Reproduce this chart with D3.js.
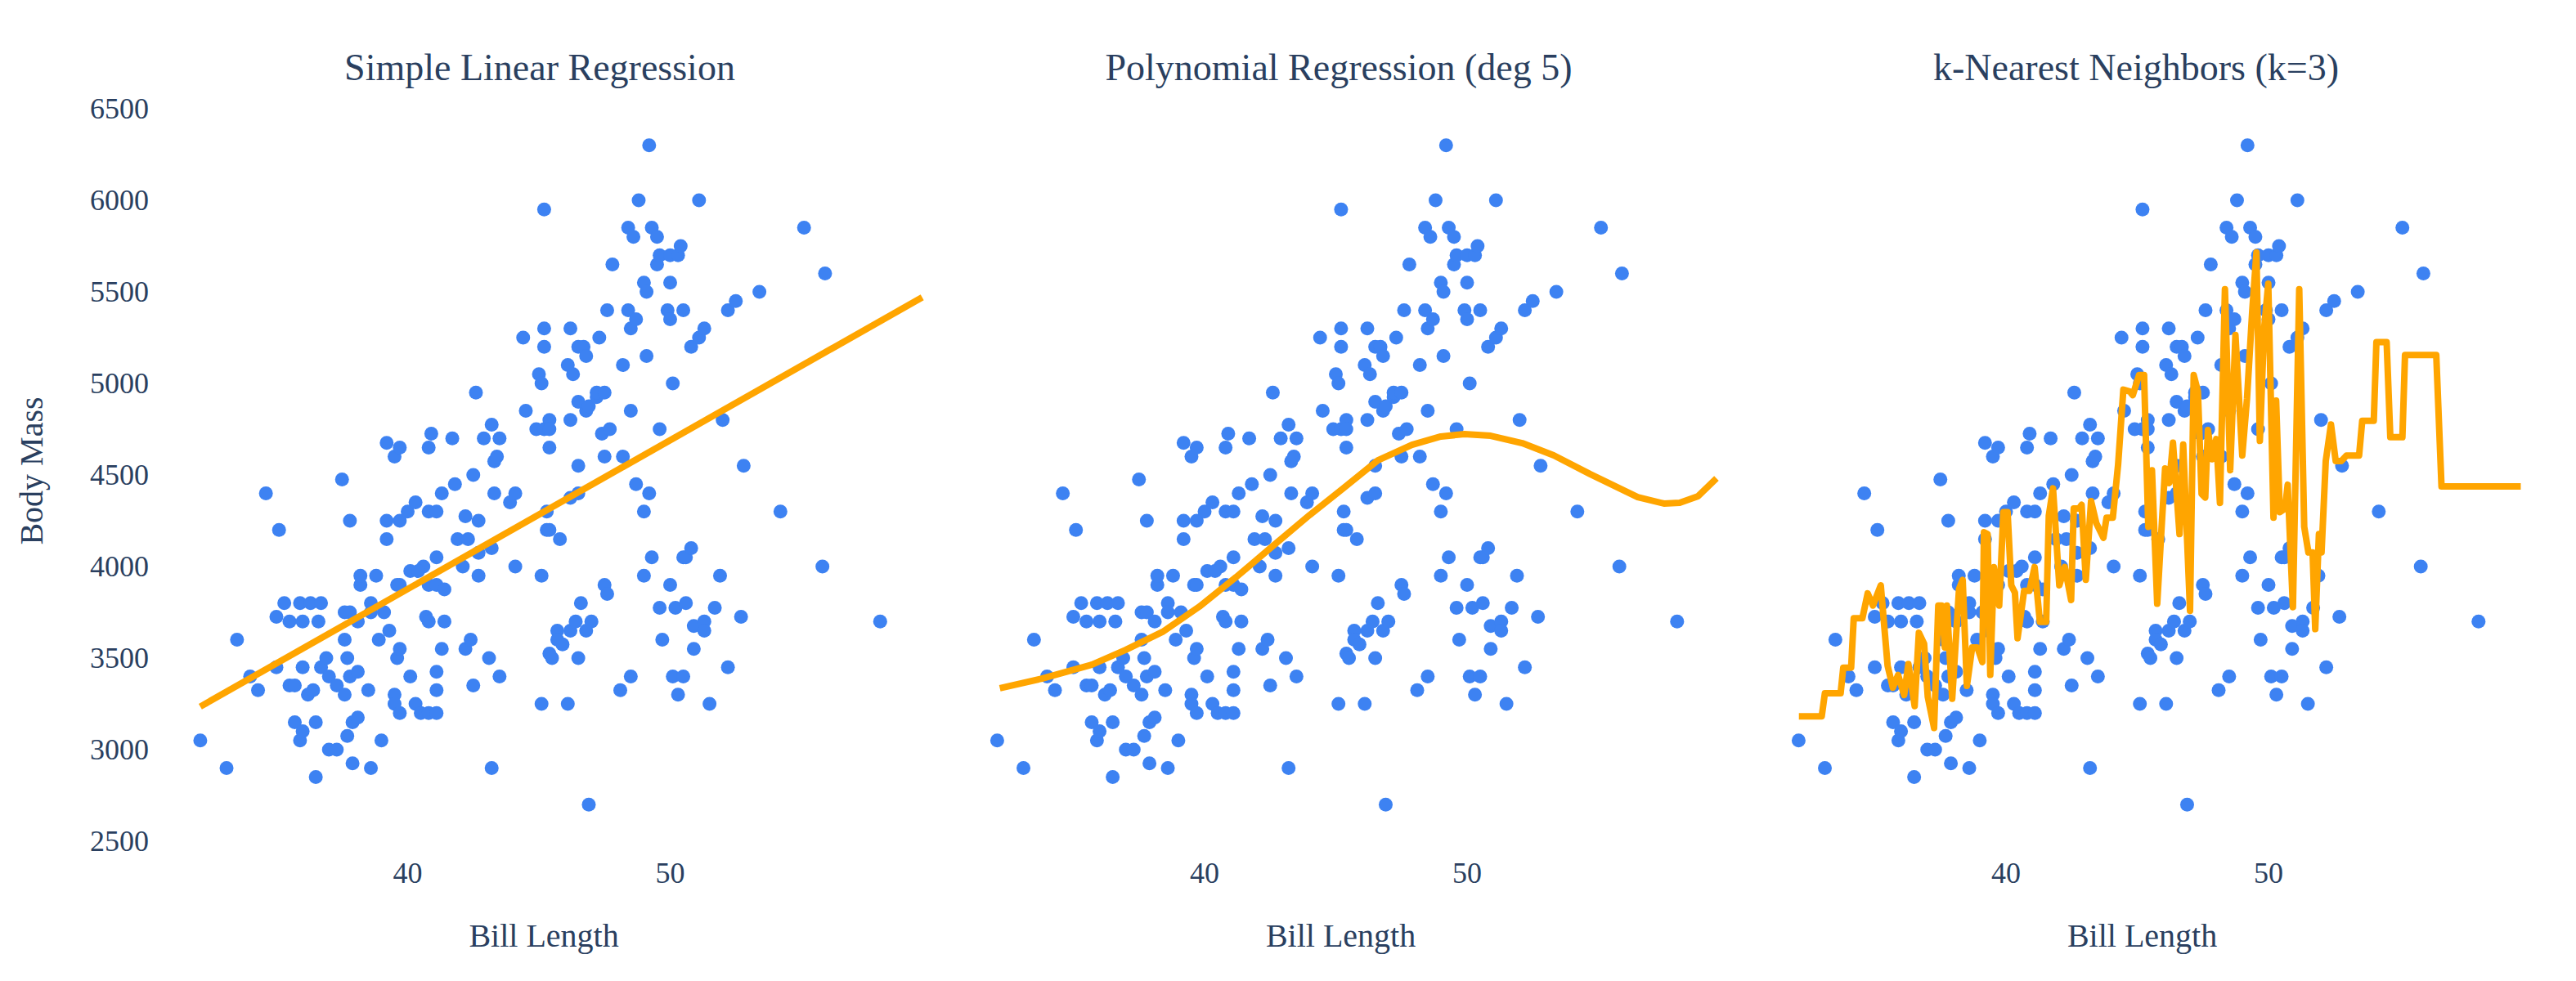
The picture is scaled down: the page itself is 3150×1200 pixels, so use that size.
<!DOCTYPE html>
<html>
<head>
<meta charset="utf-8">
<script src="https://cdn.jsdelivr.net/npm/d3@7"></script>
<style>
  body { margin: 0; background: #fff; }
  text { font-family: "Liberation Serif", "DejaVu Serif", serif; fill: #2a3f5f; }
</style>
</head>
<body>
<div id="chart"></div>
<script>
// scatter: bill length / body mass
const billLength = [32.1,33.1,33.5,34.0,34.3,34.6,35.0,35.1,35.0,35.3,35.5,35.5,35.7,35.7,35.9,36.0,36.0,35.9,36.0,36.3,36.2,36.4,36.5,36.5,36.6,36.7,36.7,36.9,37.0,37.0,37.3,37.3,37.5,37.6,37.6,37.7,37.7,37.6,37.8,37.8,37.8,37.9,37.9,38.1,38.1,38.1,38.2,38.2,38.5,38.6,38.6,38.6,38.8,38.9,39.0,39.1,39.2,39.2,39.2,39.3,39.5,39.5,39.5,39.6,39.6,39.7,39.7,39.7,39.7,39.7,40.1,40.1,40.0,40.3,40.3,40.5,40.6,40.4,40.7,40.8,40.8,40.9,40.8,40.8,40.8,41.1,41.1,41.1,41.1,41.1,41.1,41.3,41.3,41.4,41.4,41.7,41.8,41.9,42.1,42.2,42.2,42.3,42.4,42.5,42.5,42.6,42.7,42.7,42.7,42.9,43.1,43.2,43.2,43.2,43.3,43.3,43.4,43.5,43.5,43.9,44.1,44.1,44.4,44.5,44.9,45.0,45.1,45.1,45.1,45.2,45.2,45.2,45.2,45.3,45.3,45.4,45.4,45.4,45.4,45.4,45.5,45.7,45.7,45.8,45.9,46.1,46.1,46.2,46.2,46.2,46.2,46.3,46.5,46.5,46.5,46.5,46.5,46.4,46.6,46.7,46.8,46.8,46.9,46.9,46.8,47.0,47.2,47.2,47.3,47.4,47.5,47.5,47.5,47.6,47.6,47.7,47.8,48.1,48.2,48.2,48.4,48.4,48.5,48.5,48.5,48.6,48.7,48.7,48.8,49.0,49.0,49.0,49.1,49.1,49.2,49.2,49.3,49.3,49.5,49.5,49.6,49.6,49.6,49.7,49.9,50.0,50.0,50.0,50.0,50.1,50.1,50.2,50.3,50.3,50.4,50.5,50.5,50.5,50.6,50.6,50.8,50.8,50.9,50.9,51.1,51.1,51.3,51.3,51.3,51.5,51.7,51.9,52.0,52.2,52.2,52.5,52.7,52.8,53.4,54.2,55.1,55.8,55.9,58.0];
const bodyMass = [3050,2900,3600,3400,3325,4400,3450,4200,3725,3800,3700,3350,3350,3150,3050,3100,3450,3800,3700,3800,3300,3325,3150,2850,3700,3800,3450,3500,3400,3000,3000,3350,4475,3300,3600,3500,3075,3750,3750,4250,3400,3150,2925,3425,3700,3175,3900,3950,3325,3800,3750,2900,3950,3600,3050,3750,4675,4250,4150,3650,3300,3250,4600,3500,3900,3550,3200,4650,4250,3900,3975,3400,4300,4350,3250,3200,4000,3975,3725,4300,4650,4725,3700,3200,3900,4050,4300,3425,3325,3200,3900,4400,3550,3875,3700,4700,4450,4150,4000,4275,3550,4150,3600,4500,3350,4950,3950,4075,4250,4700,3500,2900,4775,4100,4575,4400,4600,3400,4700,4350,4400,4000,5250,4850,4750,5050,5000,3250,3950,5950,5300,5200,4750,4300,4200,4800,4200,4650,4750,3525,3500,3650,3600,4150,3575,3250,5100,5300,4800,4375,3650,5050,5200,4900,4550,4400,3500,3700,3800,5200,5150,4850,2700,4875,3650,3700,4925,4950,5250,4725,4950,4600,3900,5400,3850,4750,5650,3325,5100,4600,5850,5400,5300,4850,3400,5800,5350,4450,6000,3950,4300,5550,5500,5150,4400,6300,4050,5850,5800,5650,5700,3775,4750,3600,5400,5350,5550,5700,3900,5000,3400,3775,3300,5700,5750,4050,5400,3400,3800,4050,4100,5200,3550,3675,6000,5250,5300,3700,3650,3250,3775,3950,4800,5400,3450,5450,3725,4550,5500,4300,5850,4000,5600,3700];

// fitted lines
const linX = [32.1, 59.6];
const linY = [3235, 5470];

const polyX = [32.2,33.8,35.7,37.0,38.4,39.8,41.2,42.6,44.0,45.3,46.6,47.9,49.0,49.9,50.9,52.1,53.3,54.7,56.5,57.5,58.1,58.8,59.5];
const polyY = [3335,3388,3464,3545,3643,3781,3942,4112,4281,4429,4580,4665,4710,4723,4714,4674,4607,4504,4379,4344,4348,4384,4482];

const knnX = [32.11,32.98,33.10,33.70,33.80,34.10,34.20,34.53,34.73,34.93,35.23,35.49,35.69,35.89,36.12,36.28,36.52,36.68,36.88,37.02,37.26,37.42,37.55,37.67,37.75,37.95,38.21,38.35,38.51,38.71,38.91,39.10,39.16,39.30,39.40,39.54,39.74,39.90,40.06,40.20,40.34,40.44,40.69,40.89,41.09,41.29,41.53,41.63,41.79,42.03,42.24,42.48,42.58,42.78,42.88,43.04,43.24,43.44,43.71,43.83,44.07,44.27,44.47,44.71,44.83,45.07,45.26,45.42,45.56,45.76,45.90,46.06,46.22,46.36,46.61,46.75,47.01,47.15,47.31,47.45,47.59,47.69,47.85,48.01,48.15,48.34,48.54,48.74,49.00,49.18,49.38,49.54,49.67,49.83,49.99,50.19,50.29,50.43,50.63,50.73,50.93,51.17,51.36,51.52,51.68,51.78,51.92,52.02,52.18,52.38,52.56,52.77,52.97,53.45,53.57,54.01,54.11,54.50,54.64,55.10,55.20,56.39,56.59,59.61];
const knnY = [3182,3182,3308,3308,3448,3448,3718,3718,3853,3787,3897,3458,3338,3408,3298,3468,3238,3638,3578,3288,3118,3787,3787,3558,3787,3278,3877,3927,3348,3558,3558,3478,4187,4177,3408,3997,3787,4297,4297,3897,3857,3608,3867,3867,3997,3698,3698,4277,4427,3897,3997,3817,4317,4317,4337,3927,4357,4237,4157,4267,4267,4556,4966,4956,4936,5046,5046,4217,4526,3797,4147,4536,4456,4676,4177,4666,3758,5046,4956,4397,4377,4746,4586,4696,4347,5515,4526,5265,4606,4916,5395,5715,4686,5295,5545,4267,4906,4297,4317,4447,3778,5515,4217,4077,4077,3658,4177,4077,4576,4776,4576,4576,4606,4606,4796,4796,5225,5225,4706,4706,5155,5155,4437,4437];

const titles = ["Simple Linear Regression", "Polynomial Regression (deg 5)", "k-Nearest Neighbors (k=3)"];
const xTicks = [40, 50];
const yTicks = [2500, 3000, 3500, 4000, 4500, 5000, 5500, 6000, 6500];

const W = 3150, H = 1200;
const svg = d3.select('#chart').append('svg').attr('width', W).attr('height', H);

const y = d3.scaleLinear().domain([2500, 6500]).range([1029, 133]);

// where x=40 sits in each panel, 32.1 px per unit
const anchors = [498.5, 1473, 2453];
const titleX = [660, 1637, 2612];
const fits = [[linX, linY], [polyX, polyY], [knnX, knnY]];

anchors.forEach((a, i) => {
	let x = d3.scaleLinear().domain([40, 50]).range([a, a + 321]);
	let g = svg.append('g');

	g.append('text').attr('x', titleX[i]).attr('y', 98)
		.attr('text-anchor', 'middle').style('font-size', '46px').text(titles[i]);

	// x axis ticks
	g.selectAll('.xt').data(xTicks).enter().append('text')
		.attr('x', d => x(d)).attr('y', 1080)
		.attr('text-anchor', 'middle').style('font-size', '36px').text(d => d);

	g.append('text').attr('x', x(45.5) - 10).attr('y', 1158)
		.attr('text-anchor', 'middle').style('font-size', '40px').text('Bill Length');

	g.selectAll('circle').data(billLength).enter().append('circle')
		.attr('cx', (d) => x(d))
		.attr('cy', (d, j) => y(bodyMass[j]))
		.attr('r', 8.5)
		.attr('fill', '#3d82f2');

	let line = d3.line().x(d => x(d[0])).y(d => y(d[1]));
	let pts = fits[i][0].map((v, j) => [v, fits[i][1][j]]);
	g.append('path').attr('d', line(pts))
		.attr('fill', 'none').attr('stroke', '#ffa500')
		.attr('stroke-width', 8).attr('stroke-linejoin', 'round');
});

// y axis (first panel only)
svg.selectAll('.yt').data(yTicks).enter().append('text')
	.attr('x', 182).attr('y', d => y(d) + 12)
	.attr('text-anchor', 'end').style('font-size', '36px').text(d => d);

svg.append('text')
	.attr('transform', 'translate(52,576) rotate(-90)')
	.attr('text-anchor', 'middle').style('font-size', '40px').text('Body Mass');
</script>
</body>
</html>
